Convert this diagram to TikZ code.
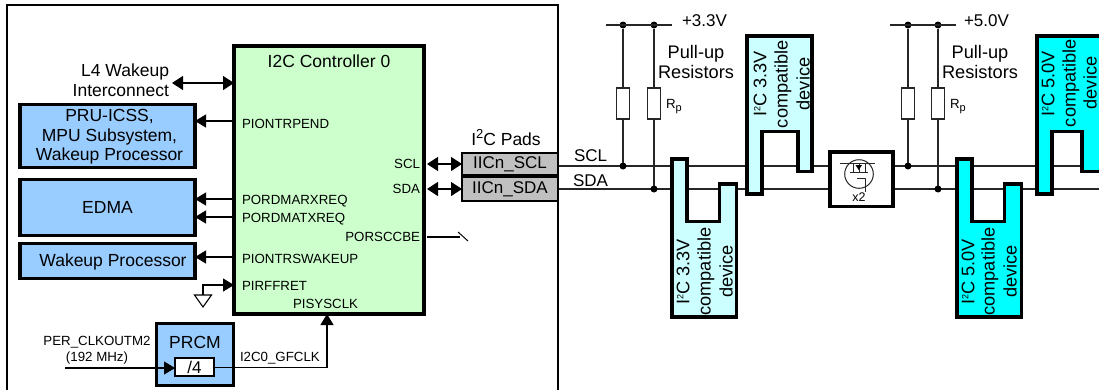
\documentclass[tikz,border=0pt]{standalone}
\usepackage{fontspec}
\setmainfont{Liberation Sans}
\usetikzlibrary{arrows.meta,calc}
\definecolor{ctlgreen}{HTML}{CCFFCC}
\definecolor{ipblue}{HTML}{99CCFF}
\definecolor{padgray}{HTML}{C0C0C0}
\definecolor{devlight}{HTML}{CCFFFF}
\definecolor{devcyan}{HTML}{00FFFF}
\definecolor{wirecol}{HTML}{262626}
\newcommand{\myfs}[1]{\fontsize{#1}{#1}\selectfont}
\tikzset{
  thickbox/.style={draw=black,line width=3.8pt,rectangle,inner sep=0pt,outer sep=0pt},
  ipbox/.style={thickbox,fill=ipblue,align=center},
  iptext/.style={inner sep=0pt,outer sep=0pt,align=center,font=\fontsize{17.5}{19.5}\selectfont},
  padbox/.style={draw=black,line width=2.6pt,rectangle,fill=padgray,inner sep=0pt,outer sep=0pt,font=\myfs{17}},
  sig/.style={anchor=base west,yshift=-4.8pt,inner sep=0pt,outer sep=0pt,font=\myfs{13.3}},
  sigr/.style={anchor=base east,yshift=-4.8pt,inner sep=0pt,outer sep=0pt,font=\myfs{13.3}},
  lab/.style={inner sep=0pt,outer sep=0pt,font=\fontsize{18.2}{20}\selectfont,align=center},
  biglab/.style={anchor=base west,yshift=-6.1pt,inner sep=0pt,outer sep=0pt,font=\myfs{17}},
  wire/.style={draw=wirecol,line width=1.3pt},
  conn/.style={draw=black,line width=1.2pt},
  tipr/.style={conn,-{Triangle[length=11pt,width=13pt]}},
  tipb/.style={conn,{Triangle[length=11pt,width=14pt]}-{Triangle[length=11pt,width=14pt]}},
  dot/.style={circle,fill=black,inner sep=0pt,minimum size=7pt,outer sep=0pt},
  resistor/.style={rectangle,draw=wirecol,line width=1.1pt,fill=white,minimum width=13pt,minimum height=31pt,inner sep=0pt,outer sep=0pt},
  devshape/.style={draw=black,line width=3.8pt,miter limit=10},
  devtext/.style={rotate=90,inner sep=0pt,outer sep=0pt,font=\myfs{18.2}},
  fet/.style={line width=1pt,draw=wirecol},
}
\begin{document}
\begin{tikzpicture}[x=1pt,y=-1pt]
\useasboundingbox (0,0) rectangle (1099,389);
\clip (0,0) rectangle (1099,389);
\fill[white] (0,0) rectangle (1099,389);

% outer device box
\node[draw=black,line width=2pt,rectangle,minimum width=551pt,minimum height=420pt,inner sep=0pt,outer sep=0pt] (soc) at (282.5,215) {};

% level coordinates
\coordinate (yL4) at (0,83);
\coordinate (yPRU) at (0,121);
\coordinate (yRX) at (0,199);
\coordinate (yTX) at (0,217);
\coordinate (yWK) at (0,257);
\coordinate (yRF) at (0,285);
\coordinate (ySCLa) at (0,164);
\coordinate (ySDAa) at (0,189);
\coordinate (ySCL) at (0,166);
\coordinate (ySDA) at (0,189);
\coordinate (yBE) at (0,237);
\coordinate (yCK) at (0,367.5);
\coordinate (xRight) at (1105,0);

% wires on the bus (under the devices)
\draw[wire] (soc.east |- ySCL) -- (xRight |- ySCL);
\draw[wire] (soc.east |- ySDA) -- (xRight |- ySDA);

% main blocks
\node[thickbox,fill=ctlgreen,minimum width=190pt,minimum height=268pt] (ctrl) at (329,180) {};
\node[inner sep=0pt,font=\myfs{17.5}] (ctrlT) at (329,61) {I2C Controller 0};
\node[ipbox,minimum width=175pt,minimum height=63pt] (pru) at (107.5,136) {};
\node[iptext] (pruT) at (109.5,137) {PRU-ICSS,\\MPU Subsystem,\\Wakeup Processor};
\node[ipbox,minimum width=175pt,minimum height=56pt] (edma) at (107.5,207.5) {};
\node[iptext] (edmaT) at (107.5,207) {EDMA};
\node[ipbox,minimum width=175pt,minimum height=35pt] (wake) at (107.5,261) {};
\node[iptext] (wakeT) at (113,261.5) {Wakeup Processor};
\node[ipbox,minimum width=77pt,minimum height=62pt] (prcm) at (195,354.5) {};
\node[iptext] (prcmT) at (195,342) {PRCM};
\node[draw=black,line width=2.4pt,fill=white,rectangle,minimum width=39pt,minimum height=18pt,inner sep=0pt,outer sep=0pt,font=\myfs{17}] (div) at (194.5,367) {/4};
\node[padbox,minimum width=96pt,minimum height=22pt] (pSCL) at (510,164) {IICn\_SCL};
\node[padbox,minimum width=96pt,minimum height=24pt] (pSDA) at (510,189) {IICn\_SDA};

% labels
\node[iptext,align=right,anchor=east,font=\fontsize{17.5}{20}\selectfont] (l4) at (169,80) {L4 Wakeup\\Interconnect};
\node[iptext] (pads) at (506,138) {I\raisebox{7pt}{\myfs{13}2}C Pads};
\node[sig] (s1) at (242,124) {PIONTRPEND};
\node[sig] (s2) at (242,199.5) {PORDMARXREQ};
\node[sig] (s3) at (242,217.5) {PORDMATXREQ};
\node[sig] (s4) at (242,259) {PIONTRSWAKEUP};
\node[sig] (s5) at (242,286) {PIRFFRET};
\node[sig] (s6) at (293,304) {PISYSCLK};
\node[sigr] (s7) at (420,164) {SCL};
\node[sigr] (s8) at (420,189) {SDA};
\node[sigr] (s9) at (420,237) {PORSCCBE};
\node[inner sep=0pt,align=center,font=\fontsize{13.3}{16}\selectfont] (per) at (97,350) {PER\_CLKOUTM2\\(192 MHz)};
\node[sig] (gf) at (240,357) {I2C0\_GFCLK};

% connectors of the controller
\coordinate (l4end) at (172,83);
\draw[tipb] (ctrl.west |- yL4) -- (l4end);
\draw[tipr] (ctrl.west |- yPRU) -- (pru.east |- yPRU);
\draw[tipr] (ctrl.west |- yRX) -- (edma.east |- yRX);
\draw[tipr] (ctrl.west |- yTX) -- (edma.east |- yTX);
\draw[tipr] (ctrl.west |- yWK) -- (wake.east |- yWK);
\coordinate (gndc) at (203,295);
\draw[tipr] (gndc) -- (gndc |- yRF) -- (ctrl.west |- yRF);
\draw[draw=black,line width=1.1pt,fill=white] (gndc) ++(-8.5,0) -- ++(17,0) -- ++(-8.5,12) -- cycle;
\coordinate (sclIn) at (427,164);
\coordinate (sdaIn) at (427,189);
\draw[tipb] (sclIn) -- (pSCL.west |- ySCLa);
\draw[tipb] (sdaIn) -- (pSDA.west |- ySDAa);
\coordinate (beStart) at (427,237);
\coordinate (beEnd) at (460,237);
\draw[conn] (beStart) -- (beEnd);
\draw[conn,line width=1pt] (458,232) -- (468,241);
\coordinate (perStart) at (65,368);
\draw[tipr] (perStart) -- (div.west |- perStart);
\coordinate (ckX) at (327,0);
\draw[tipr] (div.east |- yCK) -- (ckX |- yCK) -- (ckX |- ctrl.south);

% pull-ups
\foreach \nm/\xa/\xb/\xl/\xr/\txt/\xt/\xp/\xrp in {a/623/654/606/672/+3.3V/682/696/666,b/908/938/890/956/+5.0V/964/980/950}{
  \coordinate (rail\nm L) at (\xl,25);
  \coordinate (rail\nm R) at (\xr,25);
  \node[dot] (t1\nm) at (\xa,25) {};
  \node[dot] (t2\nm) at (\xb,25) {};
  \node[dot] (b1\nm) at (\xa,166) {};
  \node[dot] (b2\nm) at (\xb,189) {};
  \draw[wire] (rail\nm L) -- (rail\nm R);
  \draw[wire] (t1\nm) -- (b1\nm);
  \draw[wire] (t2\nm) -- (b2\nm);
  \node[resistor] (r1\nm) at (\xa,103.5) {};
  \node[resistor] (r2\nm) at (\xb,103.5) {};
  \node[biglab] (v\nm) at (\xt,20) {\txt};
  \node[lab] (pu\nm) at (\xp,62) {Pull-up\\Resistors};
  \node[sig] (rp\nm) at (\xrp,104) {R\raisebox{-2.5pt}{\myfs{11}p}};
}

% bus labels
\node[biglab] (tSCL) at (574,155) {SCL};
\node[biglab] (tSDA) at (573,180) {SDA};

% devices
\draw[devshape,fill=devlight] (672,159) -- (687,159) -- (687,221.5) -- (719.5,221.5) -- (719.5,184) -- (736.5,184) -- (736.5,317) -- (672,317) -- cycle;
\draw[devshape,fill=devlight] (747,36) -- (812,36) -- (812,171.5) -- (798,171.5) -- (798,131.5) -- (762,131.5) -- (762,194) -- (747,194) -- cycle;
\draw[devshape,fill=devcyan] (957,159) -- (972,159) -- (972,221.5) -- (1004.5,221.5) -- (1004.5,184) -- (1021.5,184) -- (1021.5,317) -- (957,317) -- cycle;
\draw[devshape,fill=devcyan] (1037,36) -- (1110,36) -- (1110,171.5) -- (1082,171.5) -- (1082,131.5) -- (1052,131.5) -- (1052,194) -- (1037,194) -- cycle;

\node[devtext] (d1a) at (683,272) {I\raisebox{6pt}{\myfs{9}2}C 3.3V};
\node[devtext] (d1b) at (706,271.5) {compatible};
\node[devtext] (d1c) at (726,271.5) {device};
\node[devtext] (d2a) at (760,84) {I\raisebox{6pt}{\myfs{9}2}C 3.3V};
\node[devtext] (d2b) at (783,84) {compatible};
\node[devtext] (d2c) at (803,84) {device};
\node[devtext] (d3a) at (968,272) {I\raisebox{6pt}{\myfs{9}2}C 5.0V};
\node[devtext] (d3b) at (990,271.5) {compatible};
\node[devtext] (d3c) at (1010,271.5) {device};
\node[devtext] (d4a) at (1048,84) {I\raisebox{6pt}{\myfs{9}2}C 5.0V};
\node[devtext] (d4b) at (1071,83) {compatible};
\node[devtext] (d4c) at (1090,83) {device};

% level shifter
\node[thickbox,fill=white,minimum width=63pt,minimum height=54.5pt] (buf) at (861.5,179.25) {};
\node[inner sep=0pt,font=\myfs{12.5}] (x2) at (859,197.5) {x2};
\draw[fet] (859,174) circle (14.3);
\draw[fet] (840,163.5) -- (875,163.5);
\draw[fet] (850,172) -- (868,172);
\draw[fet] (853,164) -- (853,172) (865,164) -- (865,172) (859,164) -- (859,172);
\fill[black] (855.5,165) -- (862,165) -- (858.7,170) -- cycle;
\draw[fet] (857,178) -- (865,178) -- (865,192);
\end{tikzpicture}
\end{document}
